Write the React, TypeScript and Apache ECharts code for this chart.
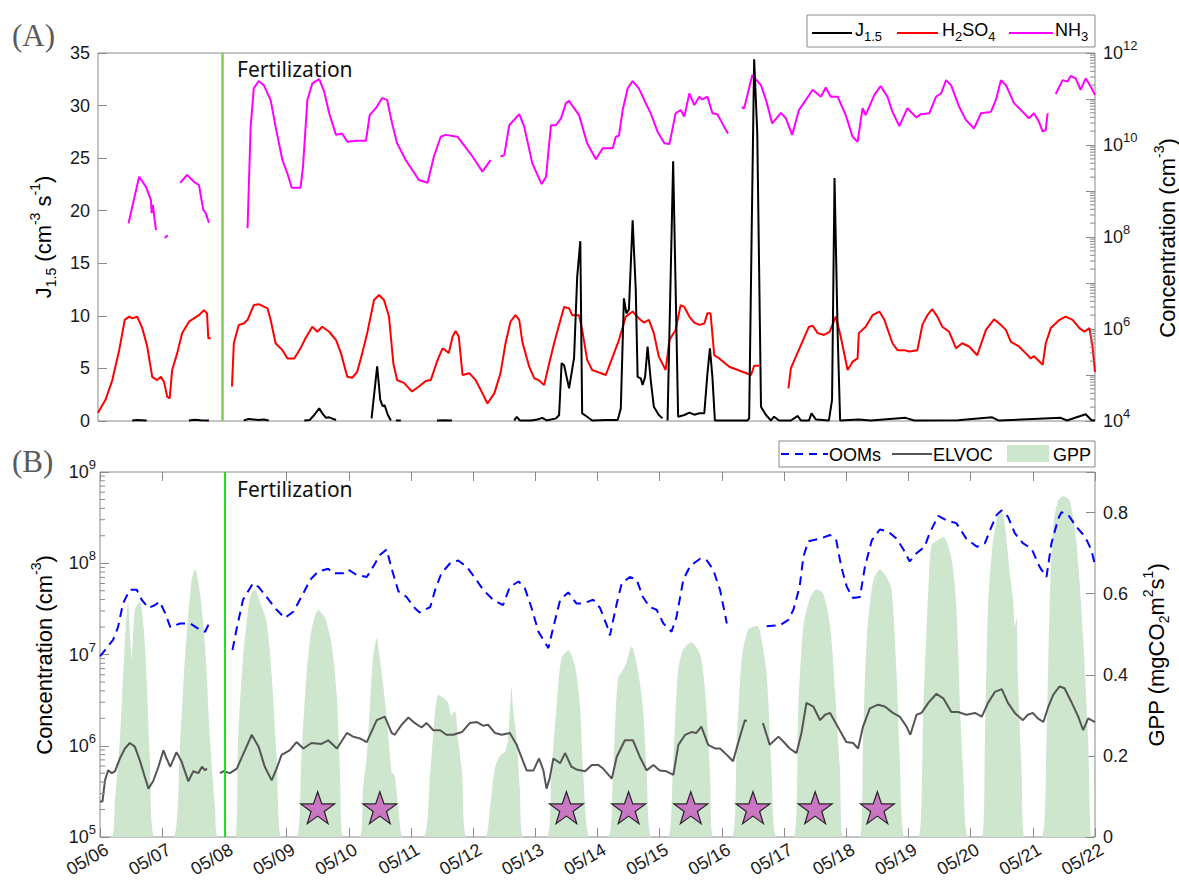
import React, { useEffect, useRef } from "react";
import * as echarts from "echarts";

// Time is expressed as fractional day of May (05/06 00:00 -> 6.0).
const DAY_START = 6;
const DAY_END = 22;
const FERTILIZATION_DAY = 8;
const STAR_DAYS = [9.5, 10.5, 13.5, 14.5, 15.5, 16.5, 17.5, 18.5];
const STAR_LEVEL = 2.1e5;

type Pt = [number, number] | null; // null = gap in the record

// Nucleation rate J1.5 (cm^-3 s^-1)
const J15: Pt[] = [
  [6.55, 0.05], [6.62, 0.1], [6.7, 0.08], [6.78, 0.05], null,
  [7.46, 0.05], [7.55, 0.12], [7.65, 0.08], [7.78, 0.05], null,
  [8.34, 0.05], [8.42, 0.2], [8.5, 0.15], [8.58, 0.1], [8.66, 0.15], [8.74, 0.05], null,
  [9.31, 0.05], [9.4, 0.1], [9.47, 0.57], [9.55, 1.2], [9.6, 0.73], [9.66, 0.3], [9.71, 0.35], [9.82, 0.1], null,
  [10.39, 0.25], [10.48, 5.2], [10.53, 2.0], [10.57, 1.4], [10.6, 1.5], [10.65, 0.6], [10.7, 0.05], null,
  [10.78, 0.05], [10.86, 0.05], null,
  [11.44, 0.05], [11.55, 0.08], [11.68, 0.05], null,
  [12.68, 0.05], [12.72, 0.4], [12.77, 0.05], [12.95, 0.05], [13.05, 0.15], [13.13, 0.3], [13.2, 0.05],
  [13.35, 0.25], [13.4, 0.57], [13.44, 5.5], [13.48, 5.3], [13.56, 3.1], [13.64, 6.0], [13.69, 13.7],
  [13.74, 17.1], [13.77, 0.73], [13.85, 0.4], [13.93, 0.05], [14.15, 0.1], [14.34, 0.1], [14.39, 1.2],
  [14.44, 11.67], [14.48, 10.24], [14.52, 10.6], [14.58, 19.1], [14.63, 12.46], [14.66, 4.2], [14.71, 4.06],
  [14.74, 3.42], [14.78, 4.2], [14.82, 7.07], [14.87, 3.9], [14.92, 1.36], [15.0, 0.57], [15.06, 0.25], null,
  [15.14, 0.05], [15.23, 24.7], [15.31, 0.41], [15.41, 0.57], [15.49, 0.79], [15.57, 0.6], [15.65, 0.73],
  [15.73, 0.73], [15.78, 4.5], [15.82, 6.9], [15.86, 4.2], [15.9, 0.05], [16.42, 0.05], [16.45, 0.25],
  [16.49, 17.9], [16.53, 34.4], [16.58, 27.4], [16.64, 1.36], [16.72, 0.57], [16.8, 0.05], [16.85, 0.41],
  [16.93, 0.05], [17.12, 0.05], [17.23, 0.48], [17.28, 0.05], [17.41, 0.05], [17.45, 0.73], [17.52, 0.15],
  [17.73, 0.05], [17.78, 2.0], [17.82, 23.1], [17.87, 8.3], [17.91, 0.05], [18.21, 0.15], [18.4, 0.05],
  [18.96, 0.3], [19.1, 0.05], [19.8, 0.08], [20.35, 0.35], [20.45, 0.05], [21.45, 0.3], [21.55, 0.05],
  [21.85, 0.64], [21.94, 0.1], [22.0, 0.05],
];

// H2SO4, log10 of concentration (cm^-3)
const H2SO4_LOG: Pt[] = [
  [6.0, 4.18], [6.12, 4.46], [6.23, 4.89], [6.34, 5.54], [6.43, 6.2], [6.5, 6.27], [6.55, 6.23], [6.63, 6.27],
  [6.71, 6.02], [6.79, 5.62], [6.87, 4.96], [6.95, 4.89], [7.01, 4.96], [7.06, 4.85], [7.11, 4.53], [7.15, 4.49],
  [7.19, 5.11], [7.27, 5.47], [7.35, 5.91], [7.46, 6.16], [7.62, 6.3], [7.7, 6.41], [7.75, 6.34], [7.77, 5.8],
  [7.81, 5.8], null,
  [8.15, 4.75], [8.18, 5.69], [8.26, 6.09], [8.34, 6.12], [8.4, 6.2], [8.5, 6.52], [8.58, 6.54], [8.72, 6.45],
  [8.77, 6.2], [8.85, 5.69], [8.96, 5.54], [9.04, 5.36], [9.15, 5.36], [9.25, 5.58], [9.33, 5.8], [9.44, 6.05],
  [9.52, 5.94], [9.6, 6.05], [9.71, 5.94], [9.82, 5.76], [9.9, 5.47], [10.0, 4.96], [10.08, 4.94], [10.16, 5.07],
  [10.24, 5.47], [10.32, 5.91], [10.43, 6.63], [10.51, 6.74], [10.59, 6.63], [10.67, 6.27], [10.74, 5.25],
  [10.8, 4.89], [10.91, 4.83], [11.04, 4.64], [11.15, 4.75], [11.26, 4.87], [11.34, 4.89], [11.45, 5.33],
  [11.53, 5.58], [11.63, 5.48], [11.69, 5.83], [11.74, 5.96], [11.79, 5.83], [11.85, 5.0], [11.96, 5.04],
  [12.06, 4.89], [12.17, 4.6], [12.25, 4.38], [12.36, 4.6], [12.46, 5.04], [12.54, 5.69], [12.62, 6.16],
  [12.7, 6.3], [12.76, 6.2], [12.81, 5.72], [12.92, 5.18], [13.0, 4.93], [13.07, 4.89], [13.16, 4.78],
  [13.24, 5.25], [13.32, 5.69], [13.4, 6.09], [13.48, 6.48], [13.56, 6.45], [13.61, 6.3], [13.72, 6.3],
  [13.77, 5.98], [13.85, 5.33], [13.93, 5.11], [14.15, 5.0], [14.26, 5.4], [14.36, 5.76], [14.47, 6.27],
  [14.58, 6.38], [14.68, 6.23], [14.76, 6.14], [14.84, 6.2], [14.92, 5.91], [15.0, 5.4], [15.11, 5.11],
  [15.17, 5.76], [15.27, 5.98], [15.35, 6.52], [15.41, 6.48], [15.49, 6.27], [15.57, 6.14], [15.65, 6.09],
  [15.73, 6.12], [15.78, 6.34], [15.83, 6.34], [15.89, 5.43], [15.97, 5.36], [16.13, 5.18], [16.48, 5.0],
  [16.53, 5.2], [16.61, 5.2], null,
  [17.08, 4.71], [17.12, 5.15], [17.2, 5.4], [17.28, 5.65], [17.41, 6.05], [17.47, 6.07], [17.55, 5.91],
  [17.65, 5.87], [17.74, 5.94], [17.84, 6.27], [17.92, 5.83], [18.03, 5.11], [18.11, 5.29], [18.19, 5.36],
  [18.21, 5.91], [18.32, 6.05], [18.43, 6.3], [18.54, 6.38], [18.62, 6.2], [18.75, 5.69], [18.83, 5.54],
  [18.94, 5.54], [19.02, 5.51], [19.15, 5.54], [19.23, 6.09], [19.31, 6.3], [19.39, 6.43], [19.47, 6.27],
  [19.55, 6.05], [19.66, 5.94], [19.77, 5.58], [19.87, 5.69], [19.98, 5.62], [20.11, 5.43], [20.25, 5.98],
  [20.38, 6.21], [20.49, 6.09], [20.57, 5.98], [20.65, 5.72], [20.78, 5.62], [20.89, 5.47], [20.97, 5.36],
  [21.02, 5.41], [21.08, 5.33], [21.16, 5.22], [21.21, 5.69], [21.29, 6.02], [21.43, 6.2], [21.53, 6.27],
  [21.64, 6.2], [21.75, 6.02], [21.83, 5.94], [21.91, 6.02], [21.96, 5.62], [22.0, 5.07],
];

// NH3, log10 of concentration (cm^-3)
const NH3_LOG: Pt[] = [
  [6.49, 8.3], [6.66, 9.31], [6.77, 9.09], [6.85, 8.8], [6.86, 8.52], [6.88, 8.7], [6.93, 8.15], null,
  [7.07, 7.98], [7.12, 8.04], null,
  [7.32, 9.18], [7.43, 9.35], [7.54, 9.2], [7.62, 9.13], [7.69, 8.59], [7.73, 8.52], [7.78, 8.31], null,
  [8.4, 8.19], [8.45, 10.4], [8.5, 11.23], [8.58, 11.39], [8.66, 11.3], [8.77, 10.98], [8.85, 10.4],
  [8.96, 9.67], [9.04, 9.38], [9.11, 9.07], [9.25, 9.07], [9.29, 9.53], [9.36, 10.98], [9.44, 11.34],
  [9.55, 11.43], [9.63, 11.16], [9.71, 10.69], [9.82, 10.22], [9.92, 10.25], [10.0, 10.07], [10.14, 10.09],
  [10.3, 10.09], [10.36, 10.65], [10.46, 10.8], [10.56, 11.02], [10.64, 10.98], [10.72, 10.47], [10.8, 10.04],
  [10.94, 9.67], [11.15, 9.24], [11.29, 9.18], [11.39, 9.75], [11.5, 10.18], [11.58, 10.22], [11.77, 10.18],
  [12.01, 9.75], [12.17, 9.42], [12.3, 9.67], null,
  [12.46, 9.75], [12.52, 9.78], [12.6, 10.43], [12.76, 10.67], [12.84, 10.4], [12.97, 9.6], [13.12, 9.15],
  [13.19, 9.31], [13.27, 10.43], [13.35, 10.43], [13.43, 10.58], [13.51, 10.91], [13.56, 10.96], [13.64, 10.8],
  [13.72, 10.65], [13.85, 10.04], [13.99, 9.69], [14.1, 9.93], [14.26, 9.93], [14.31, 10.18], [14.36, 10.2],
  [14.42, 10.76], [14.5, 11.23], [14.58, 11.39], [14.68, 11.23], [14.79, 10.91], [14.87, 10.69], [14.98, 10.29],
  [15.09, 10.04], [15.17, 10.02], [15.27, 10.69], [15.35, 10.76], [15.41, 10.62], [15.49, 11.12], [15.57, 10.87],
  [15.65, 11.05], [15.7, 10.99], [15.78, 11.05], [15.86, 10.69], [15.94, 10.67], [16.02, 10.47], [16.11, 10.25], null,
  [16.33, 10.82], [16.37, 10.8], [16.5, 11.52], [16.64, 11.3], [16.72, 10.98], [16.82, 10.47], [16.96, 10.7],
  [17.04, 10.58], [17.14, 10.22], [17.25, 10.76], [17.36, 10.98], [17.47, 11.2], [17.6, 11.05], [17.68, 11.25],
  [17.76, 11.05], [17.87, 11.05], [18.0, 10.65], [18.11, 10.18], [18.19, 10.07], [18.27, 10.8], [18.32, 10.65],
  [18.46, 11.09], [18.56, 11.28], [18.67, 11.05], [18.75, 10.72], [18.86, 10.41], [18.99, 10.8], [19.13, 10.6],
  [19.21, 10.67], [19.34, 10.69], [19.45, 11.05], [19.53, 11.12], [19.61, 11.41], [19.69, 11.3], [19.82, 10.83],
  [19.93, 10.54], [20.06, 10.36], [20.17, 10.69], [20.33, 10.72], [20.41, 10.98], [20.49, 11.41], [20.57, 11.3],
  [20.7, 10.91], [20.84, 10.72], [20.94, 10.58], [21.02, 10.69], [21.1, 10.51], [21.16, 10.29], [21.21, 10.33],
  [21.24, 10.69], null,
  [21.37, 11.11], [21.48, 11.41], [21.56, 11.38], [21.61, 11.5], [21.69, 11.45], [21.77, 11.2], [21.85, 11.45],
  [21.93, 11.27], [22.0, 11.09],
];

// Oxygenated organic molecules, log10 of concentration (cm^-3)
const OOMS_LOG: Pt[] = [
  [6.0, 6.98], [6.21, 7.16], [6.29, 7.3], [6.37, 7.56], [6.48, 7.71], [6.59, 7.71], [6.67, 7.6], [6.78, 7.51],
  [6.88, 7.54], [6.96, 7.58], [7.05, 7.45], [7.13, 7.3], [7.29, 7.34], [7.45, 7.34], [7.61, 7.27], [7.69, 7.25],
  [7.74, 7.32], [7.82, 7.36], null,
  [8.13, 7.05], [8.2, 7.29], [8.3, 7.6], [8.46, 7.78], [8.55, 7.74], [8.68, 7.63], [8.84, 7.49], [8.97, 7.4],
  [9.11, 7.47], [9.27, 7.67], [9.38, 7.82], [9.51, 7.91], [9.67, 7.94], [9.75, 7.89], [9.91, 7.89], [9.99, 7.93],
  [10.13, 7.87], [10.29, 7.85], [10.39, 7.96], [10.5, 8.09], [10.61, 8.15], [10.69, 7.94], [10.8, 7.69],
  [10.93, 7.63], [11.06, 7.51], [11.14, 7.46], [11.31, 7.52], [11.39, 7.71], [11.49, 7.89], [11.63, 8.0],
  [11.76, 8.03], [11.9, 7.96], [12.03, 7.84], [12.16, 7.71], [12.32, 7.6], [12.48, 7.54], [12.59, 7.74],
  [12.73, 7.8], [12.83, 7.73], [12.94, 7.51], [13.05, 7.25], [13.21, 7.07], [13.29, 7.3], [13.4, 7.6],
  [13.53, 7.68], [13.66, 7.56], [13.77, 7.56], [13.93, 7.6], [14.04, 7.51], [14.15, 7.32], [14.2, 7.21],
  [14.31, 7.56], [14.39, 7.78], [14.52, 7.85], [14.63, 7.82], [14.73, 7.63], [14.84, 7.52], [14.95, 7.49],
  [15.06, 7.34], [15.19, 7.25], [15.27, 7.41], [15.38, 7.82], [15.49, 7.97], [15.65, 8.05], [15.75, 8.04],
  [15.86, 7.93], [15.97, 7.71], [16.08, 7.34], null,
  [16.72, 7.31], [16.93, 7.32], [17.07, 7.38], [17.15, 7.49], [17.25, 7.74], [17.31, 8.07], [17.39, 8.24],
  [17.58, 8.27], [17.74, 8.31], [17.84, 8.25], [17.92, 7.96], [18.01, 7.74], [18.11, 7.62], [18.22, 7.63],
  [18.3, 7.96], [18.41, 8.25], [18.54, 8.37], [18.67, 8.35], [18.81, 8.27], [18.92, 8.15], [19.02, 8.02],
  [19.13, 8.11], [19.26, 8.18], [19.34, 8.33], [19.48, 8.52], [19.61, 8.47], [19.77, 8.44], [19.93, 8.27],
  [20.1, 8.18], [20.23, 8.22], [20.31, 8.36], [20.42, 8.53], [20.5, 8.58], [20.6, 8.51], [20.71, 8.33],
  [20.84, 8.22], [20.98, 8.16], [21.11, 7.96], [21.22, 7.85], [21.3, 8.22], [21.41, 8.49], [21.46, 8.56],
  [21.57, 8.53], [21.7, 8.4], [21.84, 8.29], [21.94, 8.15], [22.0, 7.98],
];

// Extremely low-volatility organics, log10 of concentration (cm^-3)
const ELVOC_LOG: Pt[] = [
  [6.0, 5.39], [6.04, 5.39], [6.08, 5.62], [6.13, 5.73], [6.19, 5.7], [6.24, 5.72], [6.32, 5.86], [6.4, 5.97],
  [6.48, 6.03], [6.56, 5.99], [6.64, 5.84], [6.72, 5.66], [6.78, 5.53], [6.86, 5.62], [6.94, 5.77], [7.02, 5.95],
  [7.07, 5.86], [7.13, 5.77], [7.23, 5.93], [7.31, 5.83], [7.42, 5.61], [7.5, 5.72], [7.58, 5.7], [7.64, 5.77],
  [7.69, 5.73], [7.72, 5.75], null,
  [7.93, 5.7], [7.98, 5.72], [8.09, 5.7], [8.2, 5.75], [8.33, 5.95], [8.44, 6.12], [8.55, 5.99], [8.65, 5.77],
  [8.76, 5.62], [8.84, 5.75], [8.92, 5.9], [9.05, 5.95], [9.16, 6.04], [9.27, 5.97], [9.4, 6.03], [9.56, 6.02],
  [9.67, 6.06], [9.81, 5.97], [9.97, 6.14], [10.07, 6.1], [10.18, 6.08], [10.29, 6.04], [10.45, 6.28],
  [10.58, 6.32], [10.69, 6.14], [10.74, 6.12], [10.85, 6.23], [10.96, 6.31], [11.06, 6.25], [11.17, 6.2],
  [11.25, 6.25], [11.36, 6.17], [11.47, 6.17], [11.57, 6.12], [11.68, 6.12], [11.82, 6.15], [11.95, 6.25],
  [12.06, 6.26], [12.16, 6.22], [12.24, 6.23], [12.35, 6.14], [12.46, 6.12], [12.59, 6.14], [12.7, 6.01],
  [12.86, 5.73], [12.97, 5.73], [13.06, 5.86], [13.13, 5.73], [13.18, 5.53], [13.23, 5.64], [13.29, 5.86],
  [13.4, 5.81], [13.48, 5.92], [13.58, 5.77], [13.66, 5.74], [13.8, 5.72], [13.91, 5.79], [14.01, 5.79],
  [14.09, 5.75], [14.23, 5.64], [14.31, 5.88], [14.44, 6.06], [14.57, 6.06], [14.68, 5.88], [14.79, 5.73],
  [14.9, 5.79], [15.0, 5.73], [15.11, 5.72], [15.22, 5.68], [15.3, 6.01], [15.41, 6.12], [15.51, 6.15],
  [15.59, 6.14], [15.67, 6.21], [15.78, 6.01], [15.89, 5.97], [15.97, 5.97], [16.08, 5.9], [16.18, 5.83],
  [16.29, 6.1], [16.37, 6.28], [16.4, 6.27], null,
  [16.66, 6.25], [16.77, 6.01], [16.91, 6.1], [17.01, 6.03], [17.09, 5.97], [17.2, 5.92], [17.28, 6.14],
  [17.36, 6.47], [17.47, 6.43], [17.58, 6.28], [17.66, 6.34], [17.74, 6.36], [17.82, 6.26], [17.92, 6.14],
  [18.0, 6.04], [18.11, 6.03], [18.19, 5.97], [18.27, 6.21], [18.38, 6.41], [18.51, 6.45], [18.62, 6.43],
  [18.75, 6.36], [18.86, 6.32], [18.97, 6.21], [19.03, 6.12], [19.13, 6.34], [19.21, 6.36], [19.32, 6.47],
  [19.45, 6.57], [19.56, 6.52], [19.69, 6.37], [19.8, 6.37], [19.93, 6.34], [20.07, 6.36], [20.18, 6.32],
  [20.28, 6.47], [20.39, 6.59], [20.5, 6.62], [20.6, 6.47], [20.71, 6.36], [20.84, 6.28], [20.92, 6.34],
  [21.0, 6.36], [21.08, 6.3], [21.17, 6.26], [21.25, 6.43], [21.33, 6.56], [21.43, 6.65], [21.51, 6.63],
  [21.62, 6.48], [21.73, 6.32], [21.81, 6.17], [21.89, 6.3], [22.0, 6.26],
];

// Gross primary production (mgCO2 m^-2 s^-1)
const GPP: Pt[] = [
  [6.0, 0], [6.19, 0], [6.24, 0.09], [6.32, 0.24], [6.4, 0.48], [6.45, 0.58], [6.51, 0.44], [6.56, 0.56],
  [6.64, 0.58], [6.7, 0.52], [6.75, 0.39], [6.8, 0.2], [6.88, 0],
  [7.18, 0], [7.29, 0.24], [7.37, 0.45], [7.47, 0.63], [7.53, 0.66], [7.61, 0.6], [7.69, 0.47], [7.77, 0.24],
  [7.85, 0.07], [7.9, 0],
  [8.17, 0], [8.22, 0.24], [8.3, 0.44], [8.41, 0.59], [8.49, 0.61], [8.57, 0.58], [8.68, 0.53], [8.76, 0.4],
  [8.84, 0.2], [8.92, 0],
  [9.16, 0], [9.24, 0.2], [9.32, 0.4], [9.4, 0.51], [9.51, 0.56], [9.62, 0.54], [9.73, 0.47], [9.81, 0.34],
  [9.86, 0.16], [9.91, 0],
  [10.18, 0], [10.23, 0.12], [10.29, 0.2], [10.34, 0.32], [10.39, 0.44], [10.45, 0.49], [10.5, 0.44],
  [10.58, 0.34], [10.64, 0.24], [10.69, 0.16], [10.74, 0.15], [10.8, 0.07], [10.88, 0],
  [11.2, 0], [11.31, 0.16], [11.39, 0.31], [11.44, 0.35], [11.55, 0.34], [11.6, 0.33], [11.65, 0.3],
  [11.71, 0.31], [11.76, 0.24], [11.82, 0.16], [11.9, 0],
  [12.19, 0], [12.27, 0.07], [12.35, 0.17], [12.43, 0.2], [12.51, 0.21], [12.56, 0.24], [12.62, 0.37],
  [12.64, 0.32], [12.7, 0.24], [12.75, 0.12], [12.81, 0],
  [13.18, 0], [13.26, 0.16], [13.34, 0.32], [13.42, 0.44], [13.53, 0.46], [13.64, 0.42], [13.72, 0.32],
  [13.77, 0.16], [13.88, 0],
  [14.17, 0], [14.25, 0.16], [14.33, 0.39], [14.44, 0.42], [14.55, 0.47], [14.65, 0.41], [14.73, 0.32],
  [14.79, 0.16], [14.87, 0],
  [15.13, 0], [15.21, 0.16], [15.29, 0.4], [15.37, 0.46], [15.51, 0.48], [15.65, 0.45], [15.73, 0.36],
  [15.81, 0.16], [15.86, 0],
  [16.16, 0], [16.24, 0.24], [16.32, 0.44], [16.42, 0.51], [16.56, 0.52], [16.61, 0.51], [16.72, 0.4],
  [16.8, 0.16], [16.88, 0],
  [17.15, 0], [17.23, 0.32], [17.31, 0.52], [17.42, 0.59], [17.52, 0.61], [17.63, 0.6], [17.74, 0.52],
  [17.82, 0.36], [17.9, 0.16], [17.95, 0],
  [18.22, 0], [18.27, 0.24], [18.33, 0.49], [18.43, 0.63], [18.54, 0.66], [18.65, 0.64], [18.73, 0.61],
  [18.81, 0.4], [18.86, 0.2], [18.94, 0],
  [19.16, 0], [19.24, 0.32], [19.32, 0.61], [19.37, 0.72], [19.45, 0.73], [19.56, 0.74], [19.69, 0.69],
  [19.77, 0.57], [19.83, 0.32], [19.88, 0.16], [19.96, 0],
  [20.18, 0], [20.23, 0.24], [20.28, 0.57], [20.36, 0.73], [20.44, 0.79], [20.5, 0.8], [20.55, 0.77],
  [20.63, 0.65], [20.68, 0.59], [20.71, 0.52], [20.74, 0.54], [20.76, 0.4], [20.82, 0.16], [20.87, 0],
  [21.14, 0], [21.22, 0.24], [21.27, 0.57], [21.33, 0.77], [21.41, 0.83], [21.49, 0.84], [21.59, 0.83],
  [21.7, 0.73], [21.81, 0.49], [21.89, 0.24], [21.94, 0], [22.0, 0],
];

const FONT = '"Liberation Sans", Arial, Helvetica, sans-serif';
const SERIF = '"Liberation Serif", "Times New Roman", serif';
const NOTE_FONT = '"Noto Sans", "Open Sans", sans-serif';
const AXIS_GREY = "#8a8a8a";
const LABEL = "#1a1a1a";
const GPP_FILL = "#cde6cd";

const toSeries = (pts: Pt[], tf: (v: number) => number = (v) => v) => {
  const out: any[] = [];
  let lastX = DAY_START;
  for (const p of pts) {
    if (p === null) out.push([lastX + 0.005, "-"]);
    else {
      out.push([p[0], tf(p[1])]);
      lastX = p[0];
    }
  }
  return out;
};
const pow10 = (e: number) => Math.pow(10, e);

// minor ticks of a log axis: 2..9 x 10^e
const logMinor = (fromExp: number, toExp: number) => {
  const v: number[] = [];
  for (let e = fromExp; e < toExp; e++) for (let m = 2; m <= 9; m++) v.push(m * Math.pow(10, e));
  return v;
};

const supRich = (size: number) => ({
  sup: { fontSize: size, fontFamily: FONT, color: LABEL, lineHeight: 12, verticalAlign: "top" },
  sub: { fontSize: size, fontFamily: FONT, color: LABEL, lineHeight: 12, verticalAlign: "bottom" },
});

const expLabel = (v: number) => `10{sup|${Math.round(Math.log10(v))}}`;

const tickStyle = { show: true, inside: true, length: 9, lineStyle: { color: AXIS_GREY, width: 1 } };

const minorTickSeries = (xi: number, yi: number, edgeX: number, dir: number, values: number[]) => ({
  type: "custom",
  xAxisIndex: xi,
  yAxisIndex: yi,
  silent: true,
  clip: false,
  z: 5,
  data: values.map((v) => [edgeX, v]),
  renderItem: (_p: any, api: any) => {
    const c = api.coord([api.value(0), api.value(1)]);
    return {
      type: "line",
      shape: { x1: c[0], y1: c[1], x2: c[0] + dir * 5, y2: c[1] },
      style: { stroke: AXIS_GREY, lineWidth: 1 },
    };
  },
});

const titleText = (x: number, y: number, text: string) => ({
  type: "text",
  x,
  y,
  rotation: Math.PI / 2,
  silent: true,
  style: {
    text,
    fontSize: 22,
    fontFamily: FONT,
    fill: "#000",
    align: "center",
    verticalAlign: "middle",
    lineHeight: 30,
    rich: {
      sup: { fontSize: 14, fontFamily: FONT, fill: "#000", lineHeight: 14, verticalAlign: "top" },
      sub: { fontSize: 14, fontFamily: FONT, fill: "#000", lineHeight: 14, verticalAlign: "bottom" },
    },
  },
});

const legendText = (x: number, y: number, text: string) => ({
  type: "text",
  x,
  y,
  silent: true,
  style: {
    text,
    fontSize: 18,
    fontFamily: FONT,
    fill: "#000",
    align: "left",
    verticalAlign: "middle",
    lineHeight: 26,
    rich: {
      sub: { fontSize: 13, fontFamily: FONT, fill: "#000", lineHeight: 12, verticalAlign: "bottom" },
    },
  },
});

const plainText = (x: number, y: number, text: string, font: string, size: number, fill: string) => ({
  type: "text",
  x,
  y,
  silent: true,
  style: { text, fontSize: size, fontFamily: font, fill, align: "left", verticalAlign: "middle" },
});

function buildOption(): any {
  const xCommon = {
    type: "value",
    min: DAY_START,
    max: DAY_END,
    interval: 1,
    axisLine: { show: false },
    splitLine: { show: false },
  };
  const dayLabel = (v: number) => "05/" + String(Math.round(v)).padStart(2, "0");

  return {
    animation: false,
    backgroundColor: "#ffffff",
    grid: [
      { left: 98, top: 53, width: 997, height: 368, show: true, borderColor: AXIS_GREY, borderWidth: 1, backgroundColor: "transparent" },
      { left: 100, top: 472, width: 995, height: 365, show: true, borderColor: AXIS_GREY, borderWidth: 1, backgroundColor: "transparent" },
    ],
    xAxis: [
      { ...xCommon, gridIndex: 0, axisTick: { show: false }, axisLabel: { show: false } },
      {
        ...xCommon,
        gridIndex: 1,
        position: "bottom",
        axisTick: tickStyle,
        axisLabel: {
          rotate: 30,
          margin: 15,
          padding: [0, -8, 0, 0],
          fontSize: 18,
          fontFamily: FONT,
          color: LABEL,
          formatter: dayLabel,
        },
      },
      { ...xCommon, gridIndex: 1, position: "top", axisTick: tickStyle, axisLabel: { show: false } },
    ],
    yAxis: [
      {
        gridIndex: 0,
        type: "value",
        position: "left",
        min: 0,
        max: 35,
        interval: 5,
        axisLine: { show: false },
        axisTick: tickStyle,
        splitLine: { show: false },
        axisLabel: { fontSize: 18, fontFamily: FONT, color: LABEL, margin: 8 },
      },
      {
        gridIndex: 0,
        type: "log",
        logBase: 10,
        position: "right",
        min: 1e4,
        max: 1e12,
        axisLine: { show: false },
        axisTick: tickStyle,
        splitLine: { show: false },
        axisLabel: {
          fontSize: 18,
          fontFamily: FONT,
          color: LABEL,
          margin: 8,
          lineHeight: 28,
          formatter: (v: number) => (Math.round(Math.log10(v)) % 2 === 0 ? expLabel(v) : ""),
          rich: supRich(13),
        },
      },
      {
        gridIndex: 1,
        type: "log",
        logBase: 10,
        position: "left",
        min: 1e5,
        max: 1e9,
        axisLine: { show: false },
        axisTick: tickStyle,
        splitLine: { show: false },
        axisLabel: {
          fontSize: 18,
          fontFamily: FONT,
          color: LABEL,
          margin: 4,
          lineHeight: 28,
          formatter: expLabel,
          rich: supRich(13),
        },
      },
      {
        gridIndex: 1,
        type: "value",
        position: "right",
        min: 0,
        max: 0.9,
        interval: 0.2,
        axisLine: { show: false },
        axisTick: tickStyle,
        splitLine: { show: false },
        axisLabel: {
          fontSize: 18,
          fontFamily: FONT,
          color: LABEL,
          margin: 8,
          formatter: (v: number) => (v > 0.85 ? "" : v === 0 ? "0" : v.toFixed(1)),
        },
      },
    ],
    series: [
      // ---- panel A ----
      {
        name: "NH3",
        type: "line",
        xAxisIndex: 0,
        yAxisIndex: 1,
        data: toSeries(NH3_LOG, pow10),
        showSymbol: false,
        connectNulls: false,
        lineStyle: { color: "#ff00ff", width: 2 },
        z: 2,
      },
      {
        name: "H2SO4",
        type: "line",
        xAxisIndex: 0,
        yAxisIndex: 1,
        data: toSeries(H2SO4_LOG, pow10),
        showSymbol: false,
        connectNulls: false,
        lineStyle: { color: "#ff0000", width: 2 },
        z: 3,
      },
      {
        name: "J1.5",
        type: "line",
        xAxisIndex: 0,
        yAxisIndex: 0,
        data: toSeries(J15),
        showSymbol: false,
        connectNulls: false,
        lineStyle: { color: "#000000", width: 2 },
        z: 4,
        markLine: {
          silent: true,
          symbol: ["none", "none"],
          label: { show: false },
          lineStyle: { color: "#80d050", width: 2.5, type: "solid" },
          data: [{ xAxis: FERTILIZATION_DAY }],
        },
      },
      minorTickSeries(0, 1, DAY_END, -1, logMinor(4, 12)),
      // ---- panel B ----
      {
        name: "GPP",
        type: "line",
        xAxisIndex: 1,
        yAxisIndex: 3,
        data: toSeries(GPP),
        showSymbol: false,
        smooth: 0.25,
        lineStyle: { width: 0, color: GPP_FILL },
        areaStyle: { color: GPP_FILL, opacity: 1 },
        z: 1,
        markLine: {
          silent: true,
          symbol: ["none", "none"],
          label: { show: false },
          lineStyle: { color: "#22dd22", width: 2, type: "solid" },
          data: [{ xAxis: FERTILIZATION_DAY }],
        },
      },
      {
        name: "ELVOC",
        type: "line",
        xAxisIndex: 1,
        yAxisIndex: 2,
        data: toSeries(ELVOC_LOG, pow10),
        showSymbol: false,
        connectNulls: false,
        lineStyle: { color: "#555555", width: 2 },
        z: 3,
      },
      {
        name: "OOMs",
        type: "line",
        xAxisIndex: 1,
        yAxisIndex: 2,
        data: toSeries(OOMS_LOG, pow10),
        showSymbol: false,
        connectNulls: false,
        lineStyle: { color: "#0000ff", width: 2, type: [9, 6] },
        z: 3,
      },
      {
        name: "stars",
        type: "scatter",
        xAxisIndex: 1,
        yAxisIndex: 2,
        data: STAR_DAYS.map((d) => [d, STAR_LEVEL]),
        symbol: "path://M50,0 L61.8,35.1 L98.1,35.1 L68.8,56.7 L79.4,91.2 L50,70 L20.6,91.2 L31.2,56.7 L1.9,35.1 L38.2,35.1 Z",
        symbolSize: [34, 32],
        itemStyle: { color: "#c85bbf", borderColor: "#000000", borderWidth: 1.2 },
        z: 6,
      },
      minorTickSeries(1, 2, DAY_START, 1, logMinor(5, 9)),
    ],
    graphic: [
      plainText(12, 35, "(A)", SERIF, 31, "#5a5a5a"),
      plainText(12, 461, "(B)", SERIF, 31, "#5a5a5a"),
      plainText(237, 69, "Fertilization", NOTE_FONT, 21, "#111"),
      plainText(237, 489, "Fertilization", NOTE_FONT, 21, "#111"),
      titleText(43, 237, "J{sub|1.5} (cm{sup|-3} s{sup|-1})"),
      titleText(1167, 238, "Concentration (cm{sup|-3})"),
      titleText(44, 655, "Concentration (cm{sup|-3})"),
      titleText(1156, 655, "GPP (mgCO{sub|2}m{sup|2}s{sup|1})"),
      // legend, panel A
      { type: "rect", silent: true, shape: { x: 807, y: 15, width: 288, height: 32 }, style: { fill: "#fff", stroke: AXIS_GREY, lineWidth: 1 } },
      { type: "line", silent: true, shape: { x1: 812, y1: 33, x2: 852, y2: 33 }, style: { stroke: "#000", lineWidth: 2 } },
      legendText(855, 30, "J{sub|1.5}"),
      { type: "line", silent: true, shape: { x1: 897, y1: 33, x2: 938, y2: 33 }, style: { stroke: "#ff0000", lineWidth: 2 } },
      legendText(942, 30, "H{sub|2}SO{sub|4}"),
      { type: "line", silent: true, shape: { x1: 1009, y1: 33, x2: 1053, y2: 33 }, style: { stroke: "#ff00ff", lineWidth: 2 } },
      legendText(1055, 30, "NH{sub|3}"),
      // legend, panel B
      { type: "rect", silent: true, shape: { x: 779, y: 441, width: 316, height: 26 }, style: { fill: "#fff", stroke: AXIS_GREY, lineWidth: 1 } },
      { type: "line", silent: true, shape: { x1: 781, y1: 454, x2: 828, y2: 454 }, style: { stroke: "#0000ff", lineWidth: 2, lineDash: [8, 6] } },
      plainText(829, 455, "OOMs", FONT, 18, "#000"),
      { type: "line", silent: true, shape: { x1: 892, y1: 454, x2: 932, y2: 454 }, style: { stroke: "#555555", lineWidth: 2 } },
      plainText(933, 455, "ELVOC", FONT, 18, "#000"),
      { type: "rect", silent: true, shape: { x: 1007, y: 445, width: 42, height: 17 }, style: { fill: GPP_FILL } },
      plainText(1053, 455, "GPP", FONT, 18, "#000"),
    ],
  };
}

export default function App() {
  const ref = useRef<HTMLDivElement>(null);
  useEffect(() => {
    if (!ref.current) return;
    const chart = echarts.init(ref.current, undefined, { renderer: "svg" });
    chart.setOption(buildOption());
    return () => chart.dispose();
  }, []);
  return (
    <div
      ref={ref}
      style={{ position: "fixed", left: 0, top: 0, width: 1179, height: 888, background: "#fff" }}
    />
  );
}
